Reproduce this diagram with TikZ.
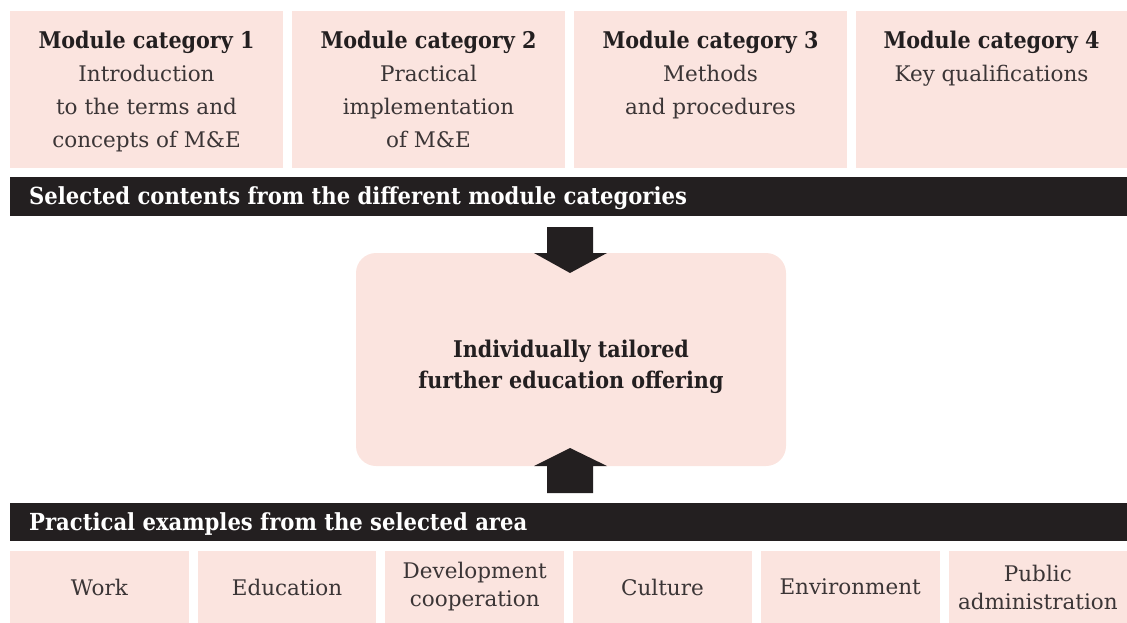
\documentclass[tikz,border=0pt]{standalone}
\usepackage{fontspec}
\setmainfont{DejaVu Serif}
\newfontfamily\condfont{DejaVu Serif Condensed}
\definecolor{pinkfill}{HTML}{FBE4DF}
\definecolor{darkbar}{HTML}{231F20}
\definecolor{bodygray}{HTML}{3B3536}
\tikzset{
  pinkbox/.style={fill=pinkfill, draw=none, inner sep=0pt},
  barbox/.style={fill=darkbar, draw=none, inner sep=0pt, minimum width=1117pt},
  bodytext/.style={inner sep=0pt, align=center, text=bodygray, font=\fontsize{21.5}{33}\selectfont},
  bartext/.style={inner sep=0pt, text=white, font=\condfont\bfseries\fontsize{23.5}{28}\selectfont},
  blockarrow/.style={fill=darkbar, draw=none}
}
\newcommand{\modtitle}[1]{{\color{darkbar}\condfont\bfseries\fontsize{23}{33}\selectfont #1}}
\begin{document}
\begin{tikzpicture}[x=1pt,y=-1pt]
\useasboundingbox (0,0) rectangle (1127,623);
% top module boxes
\node[pinkbox, minimum width=273pt, minimum height=157pt] (m1) at (146.5,89.5) {};
\node[pinkbox, minimum width=273pt, minimum height=157pt] (m2) at (428.5,89.5) {};
\node[pinkbox, minimum width=273pt, minimum height=157pt] (m3) at (710.5,89.5) {};
\node[pinkbox, minimum width=271pt, minimum height=157pt] (m4) at (991.5,89.5) {};
\node[bodytext, anchor=north] (m1t) at ([yshift=-20pt]m1.north) {\modtitle{Module category 1}\\Introduction\\to the terms and\\concepts of M\&E};
\node[bodytext, anchor=north] (m2t) at ([yshift=-20pt]m2.north) {\modtitle{Module category 2}\\Practical\\implementation\\of M\&E};
\node[bodytext, anchor=north] (m3t) at ([yshift=-20pt]m3.north) {\modtitle{Module category 3}\\Methods\\and procedures};
\node[bodytext, anchor=north] (m4t) at ([yshift=-20pt]m4.north) {\modtitle{Module category 4}\\Key qualifications};
% bar 1
\node[barbox, minimum height=39pt] (bar1) at (568.5,196.5) {};
\node[bartext, anchor=base west] (bar1t) at (29,204.5) {Selected contents from the different module categories};
% center box
\node[pinkbox, rounded corners=20pt, minimum width=430pt, minimum height=213pt] (center) at (571,359.5) {};
\node[inner sep=0pt, align=center, text=darkbar, font=\condfont\bfseries\fontsize{23}{31}\selectfont] (centert) at (571,367) {Individually tailored\\further education offering};
% arrows
\coordinate (atop) at (570,227);
\coordinate (abot) at (570,493);
\fill[blockarrow] ([xshift=-23pt]atop) -- ([xshift=23pt]atop) -- ([xshift=23pt,yshift=-26pt]atop) -- ([xshift=37pt,yshift=-26pt]atop) -- ([yshift=-46pt]atop) -- ([xshift=-36pt,yshift=-26pt]atop) -- ([xshift=-23pt,yshift=-26pt]atop) -- cycle;
\fill[blockarrow] ([xshift=-23pt]abot) -- ([xshift=23pt]abot) -- ([xshift=23pt,yshift=27pt]abot) -- ([xshift=37pt,yshift=27pt]abot) -- ([yshift=45pt]abot) -- ([xshift=-36pt,yshift=27pt]abot) -- ([xshift=-23pt,yshift=27pt]abot) -- cycle;
% bar 2
\node[barbox, minimum height=38pt] (bar2) at (568.5,522) {};
\node[bartext, anchor=base west] (bar2t) at (29,530) {Practical examples from the selected area};
% bottom boxes
\foreach \cx/\nm/\txt in {99.35/b1/Work, 287.05/b2/Education, 474.75/b3/{Development\\cooperation}, 662.45/b4/Culture, 850.15/b5/Environment, 1037.85/b6/{Public\\administration}}{
  \node[pinkbox, minimum width=178.7pt, minimum height=72pt] (\nm) at (\cx,587) {};
  \node[bodytext, font=\fontsize{21.5}{28}\selectfont] (\nm t) at (\nm) {\txt};
}
\end{tikzpicture}
\end{document}
